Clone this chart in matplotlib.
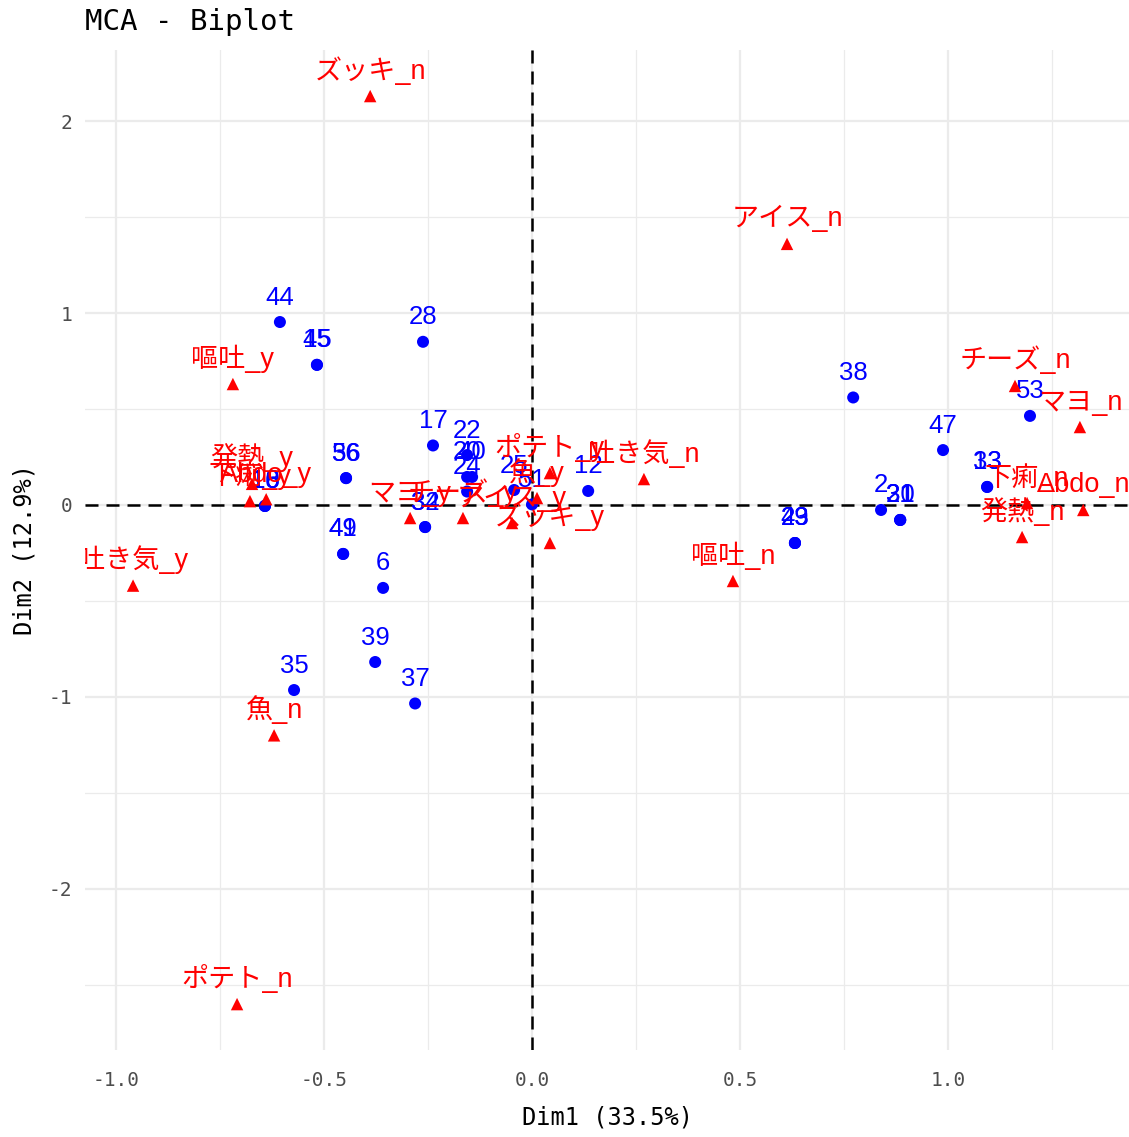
import matplotlib
matplotlib.use("Agg")
import matplotlib.pyplot as plt
import matplotlib.transforms as mtransforms

# Individuals (row points): labels and coordinates on Dim1 / Dim2
ind_labels = ["44", "45", "15", "28", "17", "22", "20", "40", "24", "25", "51",
              "12", "36", "56", "10", "16", "18", "41", "49", "6", "39", "37",
              "35", "32", "34", "38", "47", "53", "13", "33", "2", "21", "30",
              "31", "23", "29", "43"]
ind_x = [-0.606, -0.517, -0.517, -0.262, -0.238, -0.156, -0.156, -0.144, -0.156,
         -0.043, 0.000, 0.135, -0.447, -0.447, -0.642, -0.642, -0.642, -0.454,
         -0.454, -0.358, -0.377, -0.281, -0.572, -0.257, -0.257, 0.772, 0.988,
         1.197, 1.094, 1.094, 0.839, 0.885, 0.885, 0.885, 0.632, 0.632, 0.632]
ind_y = [0.953, 0.730, 0.730, 0.850, 0.310, 0.260, 0.146, 0.146, 0.070,
         0.078, 0.003, 0.073, 0.140, 0.140, -0.005, -0.005, -0.005, -0.255,
         -0.255, -0.432, -0.818, -1.034, -0.964, -0.115, -0.115, 0.560, 0.286,
         0.464, 0.094, 0.094, -0.026, -0.078, -0.078, -0.078, -0.198, -0.198,
         -0.198]

# Variable categories (column points)
var_labels = ["ズッキ_n", "アイス_n", "嘔吐_y", "チーズ_n", "マヨ_n", "ポテト_y",
              "魚_y", "吐き気_n", "マヨ_y", "チーズ_y", "アイス_y", "ズッキ_y",
              "発熱_y", "下痢_y", "Abdo_y", "吐き気_y", "魚_n", "ポテト_n",
              "嘔吐_n", "下痢_n", "Abdo_n", "発熱_n"]
var_x = [-0.389, 0.613, -0.719, 1.161, 1.317, 0.043, 0.012, 0.269, -0.293,
         -0.166, -0.048, 0.043, -0.673, -0.678, -0.639, -0.959, -0.620, -0.709,
         0.483, 1.190, 1.325, 1.178]
var_y = [2.130, 1.360, 0.630, 0.620, 0.406, 0.166, 0.036, 0.135, -0.068,
         -0.068, -0.094, -0.198, 0.110, 0.020, 0.030, -0.420, -1.200, -2.600,
         -0.396, 0.010, -0.026, -0.167]

title = "MCA - Biplot"
xlab = "Dim1 (33.5%)"
ylab = "Dim2 (12.9%)"
x_major = [-1.0, -0.5, 0.0, 0.5, 1.0]
x_minor = [-0.75, -0.25, 0.25, 0.75, 1.25]
y_major = [-2, -1, 0, 1, 2]
y_minor = [-2.5, -1.5, -0.5, 0.5, 1.5]

W, H = 1129, 1137
fig = plt.figure(figsize=(W / 100, H / 100), dpi=100)
fig.patch.set_facecolor("white")
left, right, top, bottom = 85, 1129, 50, 1050
ax = fig.add_axes([left / W, (H - bottom) / H, (right - left) / W, (bottom - top) / H])
ax.set_xlim(-1.0745, 1.435)
ax.set_ylim(-2.839, 2.370)

for s in ax.spines.values():
    s.set_visible(False)
ax.set_xticks(x_major)
ax.set_xticklabels([f"{v:.1f}" for v in x_major])
ax.set_yticks(y_major)
ax.set_yticklabels([str(v) for v in y_major])
ax.set_xticks(x_minor, minor=True)
ax.set_yticks(y_minor, minor=True)
ax.tick_params(which="both", length=0)
ax.tick_params(axis="x", pad=15, labelsize=14, labelcolor="#4D4D4D")
ax.tick_params(axis="y", pad=9, labelsize=14, labelcolor="#4D4D4D")
for lab in ax.get_xticklabels() + ax.get_yticklabels():
    lab.set_family("DejaVu Sans Mono")
ax.grid(which="major", color="#EBEBEB", lw=1.6, zorder=0)
ax.grid(which="minor", color="#EBEBEB", lw=0.9, zorder=0)
ax.set_axisbelow(True)

ax.axhline(0, color="black", lw=1.8, ls=(0, (5.2, 3.2)), zorder=1)
ax.axvline(0, color="black", lw=1.8, ls=(0, (5.2, 3.2)), zorder=1)

label_font = ["Liberation Sans", "Noto Sans CJK JP"]
offset = mtransforms.ScaledTranslation(0, 12.6 / 72, fig.dpi_scale_trans)

# Individuals
ax.scatter(ind_x, ind_y, s=75, color="blue", edgecolors="none", zorder=2)
for lab, x, y in zip(ind_labels, ind_x, ind_y):
    ax.text(x, y, lab, transform=ax.transData + offset, ha="center", va="baseline",
            color="blue", fontsize=18.5, family=label_font, clip_on=True, zorder=3)

# Categories
ax.scatter(var_x, var_y, s=80, marker="^", color="red", edgecolors="none", zorder=4)
for lab, x, y in zip(var_labels, var_x, var_y):
    ax.text(x, y, lab, transform=ax.transData + offset, ha="center", va="baseline",
            color="red", fontsize=19.5, family=label_font, clip_on=True, zorder=5)

fig.text(left / W, 1 - 22 / H, title, ha="left", va="center", fontsize=21,
         family="DejaVu Sans Mono", color="black")
fig.text((left + right) / 2 / W, 1 - 1117 / H, xlab, ha="center", va="center",
         fontsize=17, family="DejaVu Sans Mono", color="black")
fig.text(25 / W, 1 - ((top + bottom) / 2) / H, ylab, ha="center", va="center",
         rotation=90, fontsize=17, family="DejaVu Sans Mono", color="black")

fig.savefig("out.png", dpi=100, facecolor="white")
